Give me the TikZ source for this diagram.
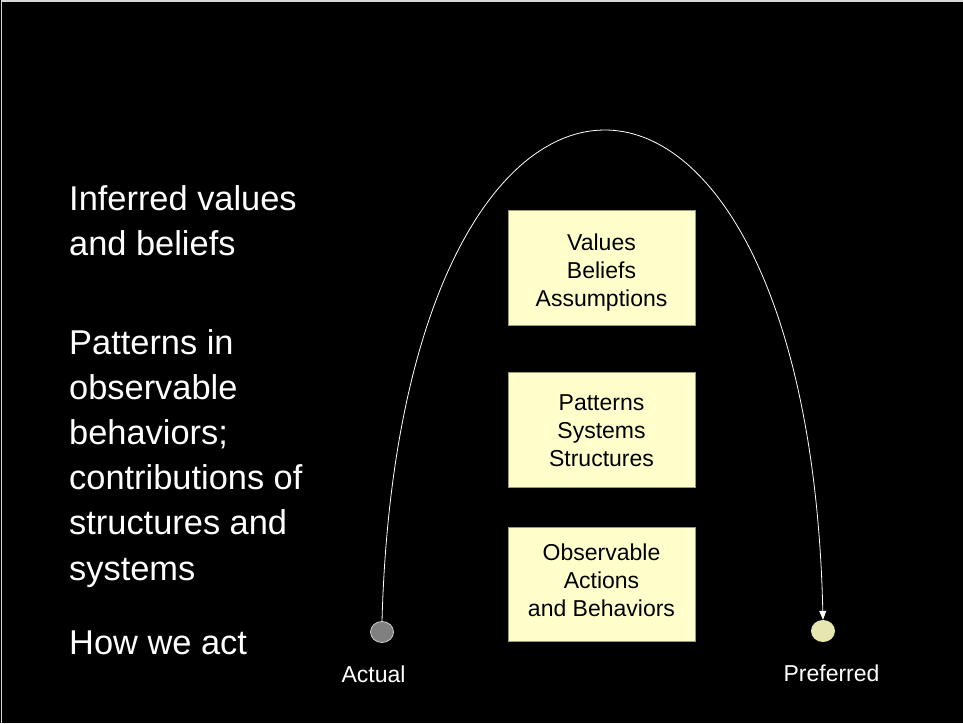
\documentclass[tikz,border=0pt]{standalone}
\usepackage{fontspec}
\setmainfont{Liberation Sans}
\usetikzlibrary{shapes.geometric,arrows.meta}
\definecolor{boxfill}{HTML}{FFFFCC}
\definecolor{boxline}{HTML}{9C9C70}
\definecolor{actfill}{HTML}{808080}
\definecolor{actline}{HTML}{D0D0D0}
\definecolor{preffill}{HTML}{E6E6B0}
\definecolor{edgegray}{HTML}{D8D8D8}
\tikzset{
  sidetext/.style={anchor=north west, inner sep=0pt, align=left, text=white,
    font=\fontsize{34.4}{45.2}\selectfont},
  layerbox/.style={draw=boxline, line width=0.8pt, fill=boxfill, minimum width=187pt,
    minimum height=115pt, inner sep=0pt},
  boxtext/.style={align=center, inner sep=0pt, text=black,
    font=\fontsize{23}{28}\selectfont},
  dot/.style={ellipse, inner sep=0pt, minimum width=23pt, minimum height=21pt},
  statelabel/.style={anchor=base, inner sep=0pt, text=white, font=\fontsize{23}{28}\selectfont},
  arcline/.style={draw=white, line width=0.8pt, -{Triangle[length=9pt,width=7pt]}}
}
\begin{document}
\begin{tikzpicture}[x=1pt,y=-1pt]
  \fill[black] (0,0) rectangle (963,723);
  \useasboundingbox (0,0) rectangle (963,723);
  \draw[edgegray, line width=1.5pt] (1.5,723) -- (1.5,0.8) -- (963,0.8);

  % left descriptions
  \node[sidetext] (t1) at (69,185) {Inferred values\\and beliefs};
  \node[sidetext] (t2) at (69,329) {Patterns in\\observable\\behaviors;\\contributions of\\structures and\\systems};
  \node[sidetext] (t3) at (69,631) {How we act};

  % layer boxes
  \node[layerbox] (b1) at (601.5,267.5) {};
  \node[boxtext] (b1t) at ([yshift=-5pt]b1.center) {Values\\Beliefs\\Assumptions};
  \node[layerbox] (b2) at (601.5,429.5) {};
  \node[boxtext] (b2t) at ([yshift=-1pt]b2.center) {Patterns\\Systems\\Structures};
  \node[layerbox, minimum height=114pt] (b3) at (601.5,584) {};
  \node[boxtext] (b3t) at ([yshift=3.5pt]b3.center) {Observable\\Actions\\and Behaviors};

  % states
  \node[dot, fill=actfill, draw=actline, line width=0.8pt] (actual) at (382,632) {};
  \node[dot, fill=preffill, minimum width=24pt, minimum height=22pt] (preferred) at (823,631) {};
  \node[statelabel] (la) at (373.5,682) {Actual};
  \node[statelabel] (lp) at (831.5,681) {Preferred};

  % arc
  \coordinate (c1) at (400,-32);
  \coordinate (c2) at (808,-32);
  \draw[arcline] (actual.north) .. controls (c1) and (c2) .. (preferred.north);
\end{tikzpicture}
\end{document}
